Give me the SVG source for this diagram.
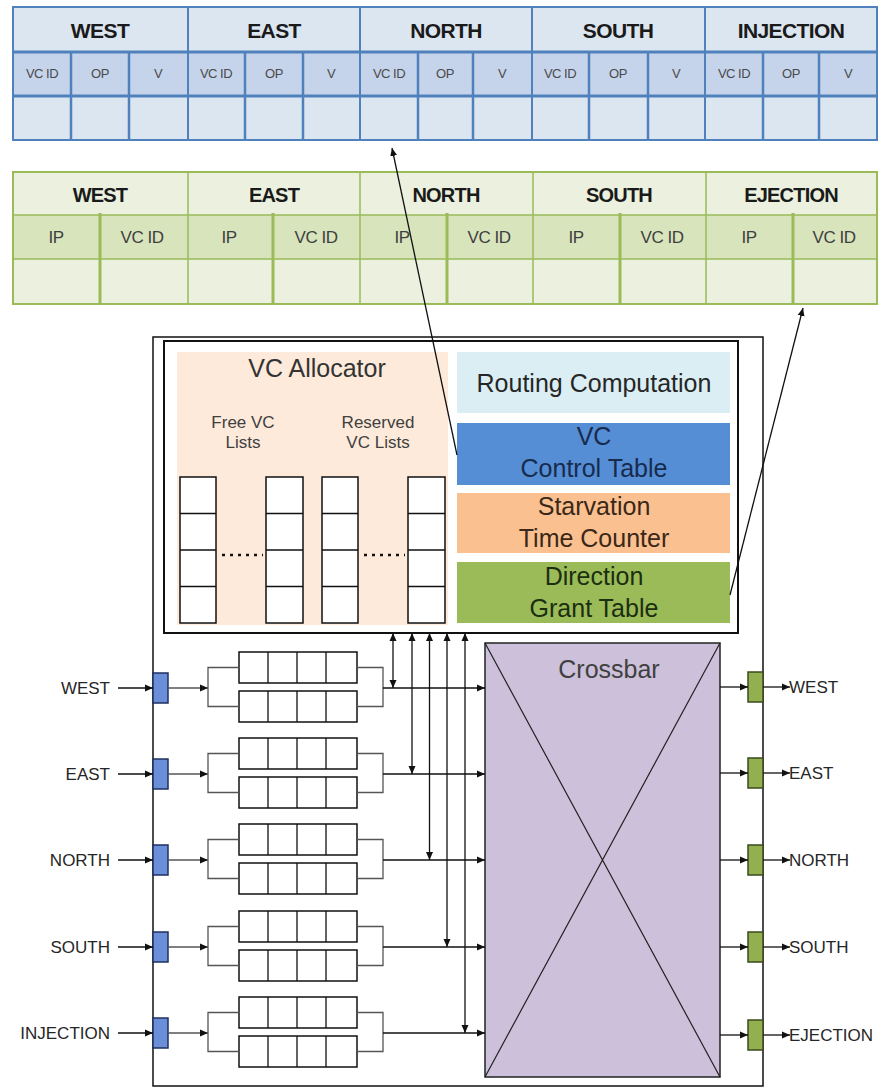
<svg xmlns="http://www.w3.org/2000/svg" width="878" height="1088" viewBox="0 0 878 1088">
<defs>
<marker id="ah" viewBox="0 0 8 8" refX="8" refY="4" markerWidth="8" markerHeight="8" markerUnits="userSpaceOnUse" orient="auto-start-reverse">
<path d="M0,0.5 L8,4 L0,7.5 z" fill="#111"/>
</marker>
<style>
.t1h{font-family:"Liberation Sans",Arial,sans-serif;font-weight:bold;font-size:20px;fill:#1a1a1a;text-anchor:middle;letter-spacing:-0.8px}
.t1hb{font-family:"Liberation Sans",Arial,sans-serif;font-weight:bold;font-size:21px;fill:#1a1a1a;text-anchor:middle;letter-spacing:-0.6px}
.t1s{font-family:"Liberation Sans",Arial,sans-serif;font-size:13px;fill:#4a4a4a;text-anchor:middle;letter-spacing:-0.5px}
.t2s{font-family:"Liberation Sans",Arial,sans-serif;font-size:17px;fill:#404040;text-anchor:middle;letter-spacing:-0.5px}
.bl{stroke:#4f81bd;fill:none}
.gr{stroke:#9bbb59;fill:none}
.lbl{font-family:"Liberation Sans",Arial,sans-serif;font-size:17px;fill:#262626}
.big{font-family:"Liberation Sans",Arial,sans-serif;font-size:25px;text-anchor:middle}
.sm{font-family:"Liberation Sans",Arial,sans-serif;font-size:17px;fill:#404040;text-anchor:middle}
.box{fill:#fff;stroke:#111;stroke-width:1.5}
.br{fill:none;stroke:#555;stroke-width:1.3}
.ln{fill:none;stroke:#111;stroke-width:1.3}
.inb{fill:#6a8fd8;stroke:#1f3060;stroke-width:1.5}
.outb{fill:#92b050;stroke:#3b4a1e;stroke-width:1.5}
</style>
</defs>

<!-- Table 1: VC Control Table -->
<g id="vc-control-table">
<rect x="13" y="7" width="864" height="45" fill="#dce6f1"/>
<rect x="13" y="52" width="864" height="44" fill="#c5d4ea"/>
<rect x="13" y="96" width="864" height="44" fill="#dce6f1"/>
<rect x="13" y="7" width="864" height="133" class="bl" stroke-width="2"/>
<path class="bl" stroke-width="3" d="M13,52H877M13,96H877"/>
<path class="bl" stroke-width="2" d="M188,7V140M360,7V140M532,7V140M705,7V140"/>
<path class="bl" stroke-width="2.5" d="M71,52V140M129,52V140M245,52V140M303,52V140M418,52V140M473,52V140M589,52V140M648,52V140M763,52V140M819,52V140"/>
<text class="t1hb" x="100" y="38">WEST</text>
<text class="t1hb" x="274" y="38">EAST</text>
<text class="t1hb" x="446" y="38">NORTH</text>
<text class="t1hb" x="618" y="38">SOUTH</text>
<text class="t1hb" x="791" y="38">INJECTION</text>
<text class="t1s" x="42" y="78">VC ID</text><text class="t1s" x="100" y="78">OP</text><text class="t1s" x="158" y="78">V</text>
<text class="t1s" x="216" y="78">VC ID</text><text class="t1s" x="274" y="78">OP</text><text class="t1s" x="331" y="78">V</text>
<text class="t1s" x="389" y="78">VC ID</text><text class="t1s" x="445" y="78">OP</text><text class="t1s" x="502" y="78">V</text>
<text class="t1s" x="560" y="78">VC ID</text><text class="t1s" x="618" y="78">OP</text><text class="t1s" x="676" y="78">V</text>
<text class="t1s" x="734" y="78">VC ID</text><text class="t1s" x="791" y="78">OP</text><text class="t1s" x="848" y="78">V</text>
</g>

<!-- Table 2: Direction Grant Table -->
<g id="direction-grant-table">
<rect x="13" y="172" width="864" height="43" fill="#ebf1de"/>
<rect x="13" y="215" width="864" height="44" fill="#d8e4bc"/>
<rect x="13" y="259" width="864" height="45" fill="#ebf1de"/>
<rect x="13" y="172" width="864" height="132" class="gr" stroke-width="2"/>
<path class="gr" stroke-width="1.5" d="M13,215H877M13,259H877M188,172V304M360,172V304M533,172V304M706,172V304"/>
<path class="gr" stroke-width="3" d="M100,213V304M273,213V304M447,213V304M620,213V304M793,213V304"/>
<text class="t1h" x="100" y="202">WEST</text>
<text class="t1h" x="274" y="202">EAST</text>
<text class="t1h" x="446" y="202">NORTH</text>
<text class="t1h" x="619" y="202">SOUTH</text>
<text class="t1h" x="791" y="202">EJECTION</text>
<text class="t2s" x="56" y="243">IP</text><text class="t2s" x="142" y="243">VC ID</text>
<text class="t2s" x="229" y="243">IP</text><text class="t2s" x="316" y="243">VC ID</text>
<text class="t2s" x="402" y="243">IP</text><text class="t2s" x="489" y="243">VC ID</text>
<text class="t2s" x="576" y="243">IP</text><text class="t2s" x="662" y="243">VC ID</text>
<text class="t2s" x="749" y="243">IP</text><text class="t2s" x="834" y="243">VC ID</text>
</g>

<!-- Router -->
<g id="router">
<rect x="153" y="337" width="610" height="749" fill="#fff" stroke="#111" stroke-width="1.5"/>
</g>

<g id="allocator-block">
<rect x="164" y="341" width="574" height="292" fill="#fff" stroke="#111" stroke-width="2"/>
</g>

<g id="vc-allocator">
<rect x="177" y="352" width="271" height="273" fill="#fdeada"/>
<text class="big" x="317" y="377" fill="#333">VC Allocator</text>
<text class="sm" x="243" y="428">Free VC</text>
<text class="sm" x="243" y="448">Lists</text>
<text class="sm" x="378" y="428">Reserved</text>
<text class="sm" x="378" y="448">VC Lists</text>
<g>
<rect class="box" x="180" y="477" width="36" height="146"/>
<path class="ln" stroke-width="1.5" d="M180,513.5H216M180,550H216M180,586.5H216"/>
<rect class="box" x="266" y="477" width="37" height="146"/>
<path class="ln" stroke-width="1.5" d="M266,513.5H303M266,550H303M266,586.5H303"/>
<rect class="box" x="322" y="477" width="36" height="146"/>
<path class="ln" stroke-width="1.5" d="M322,513.5H358M322,550H358M322,586.5H358"/>
<rect class="box" x="408" y="477" width="37" height="146"/>
<path class="ln" stroke-width="1.5" d="M408,513.5H445M408,550H445M408,586.5H445"/>
<path d="M222,555H263M364,555H405" stroke="#111" stroke-width="2.5" stroke-dasharray="3,5" fill="none"/>
</g>
</g>

<g id="routing-computation">
<rect x="457" y="352" width="273" height="61" fill="#dbeef4"/>
<text class="big" x="594" y="392" fill="#262626">Routing Computation</text>
</g>
<g id="vc-control">
<rect x="457" y="423" width="273" height="62" fill="#558ed5"/>
<text class="big" x="594" y="445" fill="#172b4d">VC</text>
<text class="big" x="594" y="477" fill="#172b4d">Control Table</text>
</g>
<g id="starvation">
<rect x="457" y="493" width="273" height="60" fill="#fac090"/>
<text class="big" x="594" y="515" fill="#3a2818">Starvation</text>
<text class="big" x="594" y="547" fill="#3a2818">Time Counter</text>
</g>
<g id="direction-grant">
<rect x="457" y="562" width="273" height="61" fill="#9bbb59"/>
<text class="big" x="594" y="585" fill="#1c2e10">Direction</text>
<text class="big" x="594" y="617" fill="#1c2e10">Grant Table</text>
</g>

<g id="crossbar">
<rect x="485" y="643" width="235" height="434" fill="#ccc0da" stroke="#222" stroke-width="1.5"/>
<path d="M485,643L720,1077M720,643L485,1077" stroke="#222" stroke-width="1.2" fill="none"/>
<text class="big" x="609" y="678" fill="#404040">Crossbar</text>
</g>

<!-- Buffers -->
<g id="buffers-west">
<rect class="box" x="239" y="652" width="118" height="31"/><path class="ln" d="M268,652V683M297,652V683M326,652V683"/>
<rect class="box" x="239" y="691" width="118" height="31"/><path class="ln" d="M268,691V722M297,691V722M326,691V722"/>
</g>
<g id="buffers-east">
<rect class="box" x="239" y="738" width="118" height="31"/><path class="ln" d="M268,738V769M297,738V769M326,738V769"/>
<rect class="box" x="239" y="777" width="118" height="31"/><path class="ln" d="M268,777V808M297,777V808M326,777V808"/>
</g>
<g id="buffers-north">
<rect class="box" x="239" y="824" width="118" height="31"/><path class="ln" d="M268,824V855M297,824V855M326,824V855"/>
<rect class="box" x="239" y="863" width="118" height="31"/><path class="ln" d="M268,863V894M297,863V894M326,863V894"/>
</g>
<g id="buffers-south">
<rect class="box" x="239" y="911" width="118" height="31"/><path class="ln" d="M268,911V942M297,911V942M326,911V942"/>
<rect class="box" x="239" y="950" width="118" height="31"/><path class="ln" d="M268,950V981M297,950V981M326,950V981"/>
</g>
<g id="buffers-injection">
<rect class="box" x="239" y="997" width="118" height="31"/><path class="ln" d="M268,997V1028M297,997V1028M326,997V1028"/>
<rect class="box" x="239" y="1036" width="118" height="31"/><path class="ln" d="M268,1036V1067M297,1036V1067M326,1036V1067"/>
</g>

<!-- Input ports -->
<g id="in-west"><text class="lbl" x="110" y="694" text-anchor="end">WEST</text><rect class="inb" x="153" y="673" width="15" height="30"/></g>
<g id="in-east"><text class="lbl" x="110" y="780" text-anchor="end">EAST</text><rect class="inb" x="153" y="759" width="15" height="30"/></g>
<g id="in-north"><text class="lbl" x="110" y="866" text-anchor="end">NORTH</text><rect class="inb" x="153" y="845" width="15" height="30"/></g>
<g id="in-south"><text class="lbl" x="110" y="953" text-anchor="end">SOUTH</text><rect class="inb" x="153" y="932" width="15" height="30"/></g>
<g id="in-injection"><text class="lbl" x="110" y="1039" text-anchor="end">INJECTION</text><rect class="inb" x="153" y="1018" width="15" height="30"/></g>

<!-- Output ports -->
<g id="out-west"><rect class="outb" x="748" y="672" width="15" height="30"/><text class="lbl" x="789" y="693">WEST</text></g>
<g id="out-east"><rect class="outb" x="748" y="758" width="15" height="30"/><text class="lbl" x="789" y="779">EAST</text></g>
<g id="out-north"><rect class="outb" x="748" y="845" width="15" height="30"/><text class="lbl" x="789" y="866">NORTH</text></g>
<g id="out-south"><rect class="outb" x="748" y="932" width="15" height="30"/><text class="lbl" x="789" y="953">SOUTH</text></g>
<g id="out-ejection"><rect class="outb" x="748" y="1020" width="15" height="30"/><text class="lbl" x="789" y="1041">EJECTION</text></g>

<!-- Connectors -->
<g id="connectors">
<path class="ln" marker-end="url(#ah)" d="M118,688H153"/>
<path class="ln" marker-end="url(#ah)" d="M118,774H153"/>
<path class="ln" marker-end="url(#ah)" d="M118,860H153"/>
<path class="ln" marker-end="url(#ah)" d="M118,947H153"/>
<path class="ln" marker-end="url(#ah)" d="M118,1033H153"/>
<path class="br" marker-end="url(#ah)" d="M168,688H208"/>
<path class="br" marker-end="url(#ah)" d="M168,774H208"/>
<path class="br" marker-end="url(#ah)" d="M168,860H208"/>
<path class="br" marker-end="url(#ah)" d="M168,947H208"/>
<path class="br" marker-end="url(#ah)" d="M168,1033H208"/>
<path class="br" d="M239,667.5H208V706.5H239"/>
<path class="br" d="M239,753.5H208V792.5H239"/>
<path class="br" d="M239,839.5H208V878.5H239"/>
<path class="br" d="M239,926.5H208V965.5H239"/>
<path class="br" d="M239,1012.5H208V1051.5H239"/>
<path class="br" d="M357,667.5H383V706.5H357"/>
<path class="br" d="M357,753.5H383V792.5H357"/>
<path class="br" d="M357,839.5H383V878.5H357"/>
<path class="br" d="M357,926.5H383V965.5H357"/>
<path class="br" d="M357,1012.5H383V1051.5H357"/>
<path class="ln" marker-end="url(#ah)" d="M383,688H485"/>
<path class="ln" marker-end="url(#ah)" d="M383,774H485"/>
<path class="ln" marker-end="url(#ah)" d="M383,860H485"/>
<path class="ln" marker-end="url(#ah)" d="M383,947H485"/>
<path class="ln" marker-end="url(#ah)" d="M383,1033H485"/>
<path class="ln" stroke-width="1.6" marker-start="url(#ah)" marker-end="url(#ah)" d="M393,633V688"/>
<path class="ln" stroke-width="1.6" marker-start="url(#ah)" marker-end="url(#ah)" d="M412,633V774"/>
<path class="ln" stroke-width="1.6" marker-start="url(#ah)" marker-end="url(#ah)" d="M429.5,633V860"/>
<path class="ln" stroke-width="1.6" marker-start="url(#ah)" marker-end="url(#ah)" d="M447,633V947"/>
<path class="ln" stroke-width="1.6" marker-start="url(#ah)" marker-end="url(#ah)" d="M465,633V1033"/>
<path class="ln" marker-end="url(#ah)" d="M720,687H748"/>
<path class="ln" marker-end="url(#ah)" d="M720,773H748"/>
<path class="ln" marker-end="url(#ah)" d="M720,860H748"/>
<path class="ln" marker-end="url(#ah)" d="M720,947H748"/>
<path class="ln" marker-end="url(#ah)" d="M720,1035H748"/>
<path class="ln" marker-end="url(#ah)" d="M763,687H790"/>
<path class="ln" marker-end="url(#ah)" d="M763,773H790"/>
<path class="ln" marker-end="url(#ah)" d="M763,860H790"/>
<path class="ln" marker-end="url(#ah)" d="M763,947H790"/>
<path class="ln" marker-end="url(#ah)" d="M763,1035H790"/>
<path class="ln" marker-end="url(#ah)" d="M457,455L392,148"/>
<path class="ln" marker-end="url(#ah)" d="M730,595L803,308"/>
</g>
</svg>
